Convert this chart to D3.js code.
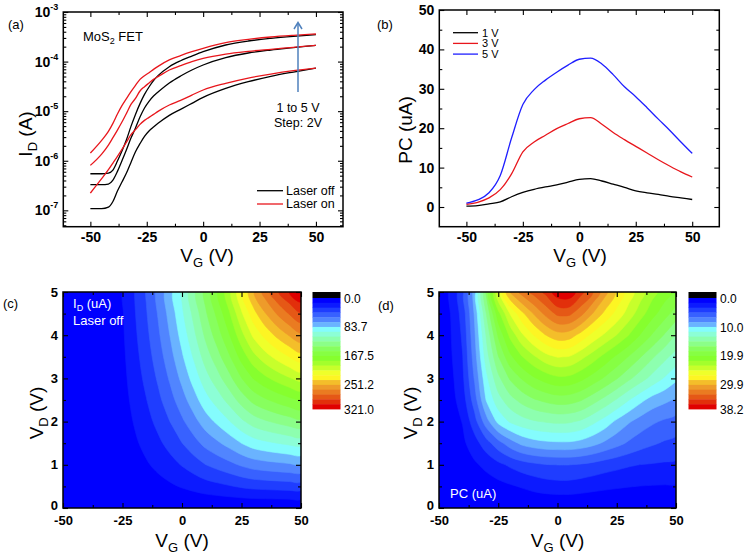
<!DOCTYPE html>
<html><head><meta charset="utf-8">
<script src="https://cdn.jsdelivr.net/npm/d3@7"></script>
<style>
body{margin:0;background:#fff}
svg{display:block}
text{font-family:"Liberation Sans",Arial,Helvetica,sans-serif}
</style></head>
<body><svg id="chart" width="745" height="556"></svg>
<script>
// ---------------- data: panel (a) I_D vs V_G (A) ----------------
const vgA = [-50,-45,-42,-40,-38,-36,-34,-32,-30,-28,-26,-24,-22,-20,-15,-10,-5,0,10,20,30,40,50];
const offVd1 = [1.08e-7,1.08e-7,1.16e-7,1.51e-7,2.45e-7,3.72e-7,5.65e-7,9.27e-7,1.52e-6,2.21e-6,3.10e-6,3.97e-6,4.79e-6,5.68e-6,8.22e-6,1.09e-5,1.44e-5,1.90e-5,2.88e-5,3.93e-5,5.04e-5,6.16e-5,7.41e-5];
const offVd3 = [3.29e-7,3.29e-7,3.39e-7,4.08e-7,6.10e-7,1.00e-6,1.67e-6,2.87e-6,4.57e-6,7.62e-6,1.16e-5,1.58e-5,2.02e-5,2.43e-5,3.70e-5,5.12e-5,6.76e-5,8.53e-5,1.20e-4,1.49e-4,1.71e-4,1.91e-4,2.13e-4];
const offVd5 = [5.47e-7,5.47e-7,5.65e-7,6.49e-7,9.86e-7,1.57e-6,2.65e-6,4.93e-6,8.61e-6,1.42e-5,2.18e-5,3.07e-5,4.12e-5,5.20e-5,7.89e-5,1.04e-4,1.29e-4,1.58e-4,2.16e-4,2.60e-4,2.94e-4,3.23e-4,3.49e-4];
const onVd1 = [2.23e-7,4.34e-7,6.59e-7,8.99e-7,1.22e-6,1.69e-6,2.38e-6,3.35e-6,4.23e-6,5.42e-6,6.52e-6,7.50e-6,8.61e-6,9.91e-6,1.33e-5,1.65e-5,2.11e-5,2.67e-5,3.64e-5,4.66e-5,5.61e-5,6.55e-5,7.41e-5];
const onVd3 = [8.07e-7,1.36e-6,2.07e-6,2.92e-6,4.16e-6,6.04e-6,9.03e-6,1.37e-5,1.81e-5,2.55e-5,3.12e-5,3.70e-5,4.38e-5,4.96e-5,6.76e-5,8.26e-5,9.95e-5,1.16e-4,1.42e-4,1.61e-4,1.77e-4,1.94e-4,2.13e-4];
const onVd5 = [1.43e-6,2.58e-6,3.91e-6,5.68e-6,8.75e-6,1.29e-5,1.79e-5,2.47e-5,3.32e-5,4.38e-5,5.20e-5,5.97e-5,6.97e-5,8.02e-5,1.08e-4,1.32e-4,1.58e-4,1.85e-4,2.41e-4,2.81e-4,3.13e-4,3.38e-4,3.60e-4];
const legendA = ["Laser off","Laser on"];

// ---------------- data: panel (b) PC vs V_G (uA) ----------------
const vgB = [-50,-45,-40,-35,-30,-25,-20,-15,-10,-5,0,5,10,15,20,25,30,35,40,45,50];
const pcVd1 = [0.2,0.35,0.8,1.3,2.6,3.7,4.5,5.1,5.6,6.3,7.0,7.2,6.6,5.8,5.0,4.1,3.6,3.2,2.7,2.3,1.9];
const pcVd3 = [0.7,1.2,2.3,4.4,8.4,14.0,16.5,18.2,19.9,21.2,22.4,22.7,21.0,18.9,17.1,15.4,13.7,12.0,10.4,8.9,7.6];
const pcVd5 = [1.0,1.8,3.6,8.0,17.5,26.0,29.8,32.2,34.2,36.0,37.5,37.8,36.3,33.6,30.5,28.0,25.2,22.3,19.5,16.5,13.6];
const legendB = ["1 V","3 V","5 V"];

// ---------------- data: maps (c) and (d) ----------------
const vgGrid = [-50,-45,-40,-35,-30,-25,-20,-15,-10,-5,0,5,10,15,20,25,30,35,40,45,50];
const vdGrid = [0,0.5,1,1.5,2,2.5,3,3.5,4,4.5,5];
// I_D (uA), laser off; one row per V_D (from 0 V up to 5 V)
const idOffMap = [
 [0,0,0,0,0,0,0,0,0,0,0,0,0,0,0,0,0,0,0,0,0],
 [0.04,0.07,0.12,0.19,0.45,2.0,4.2,6.4,9.0,11.8,15.0,18.2,21.7,24.2,26.8,29.6,31.8,32.8,33.6,34.3,35.0],
 [0.09,0.14,0.23,0.37,0.86,3.9,8.1,12.4,17.3,22.8,28.8,35.1,41.8,46.8,51.9,57.5,62.0,64.4,66.1,67.8,69.3],
 [0.12,0.21,0.33,0.54,1.25,5.6,11.6,17.9,24.9,32.8,41.6,50.7,60.2,67.6,75.3,83.8,90.8,94.7,97.7,100.5,103.0],
 [0.16,0.27,0.43,0.69,1.6,7.2,14.9,22.9,31.9,42.0,53.2,64.9,77.1,86.8,97.1,108.5,118.0,123.8,128.3,132.4,136.1],
 [0.19,0.32,0.51,0.83,1.91,8.6,17.9,27.4,38.3,50.4,63.8,77.8,92.4,104.4,117.1,131.5,143.8,151.6,157.9,163.5,168.5],
 [0.22,0.37,0.59,0.95,2.2,9.9,20.5,31.5,43.9,57.8,73.2,89.3,106.1,120.2,135.5,152.9,168.0,178.2,186.5,193.8,200.3],
 [0.24,0.41,0.65,1.06,2.45,11.0,22.8,35.1,48.9,64.4,81.6,99.5,118.2,134.4,152.1,172.6,190.8,203.5,214.1,223.3,231.4],
 [0.27,0.44,0.71,1.15,2.66,12.0,24.9,38.2,53.3,70.2,88.8,108.3,128.8,147.0,167.1,190.7,212.0,227.6,240.7,252.0,261.9],
 [0.28,0.47,0.76,1.23,2.85,12.8,26.6,40.8,57.0,75.0,95.0,115.8,137.7,157.8,180.4,207.2,231.8,250.4,266.4,279.9,291.8],
 [0.3,0.5,0.8,1.3,3.0,13.5,28,43,60,79,100,122,145,167,192,222,250,272,291,307,321]
];
// PC (uA); one row per V_D (from 0 V up to 5 V)
const pcMap = [
 [0,0,0,0,0,0,0,0,0,0,0,0,0,0,0,0,0,0,0,0,0],
 [0.07,0.2,0.35,0.55,0.8,1.1,1.45,1.8,2.2,2.5,2.65,2.65,2.45,2.2,2.0,1.85,1.72,1.63,1.58,1.55,1.5],
 [0.15,0.4,0.8,1.4,2.1,2.9,3.6,4.2,4.6,4.9,5.0,5.0,4.8,4.5,4.1,3.8,3.5,3.3,3.2,3.1,3.0],
 [0.2,0.6,1.3,2.6,4.3,6.0,7.5,8.7,9.3,9.6,9.7,9.7,9.4,8.8,8.0,7.2,6.4,5.7,5.2,4.8,4.5],
 [0.3,0.8,1.75,4.3,7.6,10.4,11.8,12.6,13.1,13.4,13.6,13.5,13.0,12.0,10.9,9.6,8.5,7.6,6.9,6.4,6.0],
 [0.35,1.0,2.5,5.8,10.1,12.6,14.3,15.5,16.4,17.0,17.4,17.3,16.7,15.6,14.4,13.1,11.7,10.4,9.3,8.7,8.1],
 [0.45,1.2,3.0,6.8,11.2,14.5,16.8,18.4,19.7,20.6,21.2,21.1,20.3,19.2,18.0,16.7,15.3,14.0,12.7,11.5,10.3],
 [0.5,1.45,3.3,7.5,12.5,16.5,19.5,21.5,23.0,24.3,25.0,24.8,23.7,22.4,21.0,19.6,18.2,16.7,15.2,13.8,12.5],
 [0.6,1.6,3.6,8.0,13.5,18.5,22.0,24.6,26.6,28.2,29.2,29.0,27.6,26.0,24.6,23.2,21.6,19.8,18.1,16.5,14.8],
 [0.7,1.7,4.0,8.5,15.0,21.0,25.0,27.8,30.0,32.0,33.6,33.6,32.0,29.8,27.8,26.0,24.2,22.3,20.5,19.0,17.5],
 [0.8,1.9,4.5,9.0,17.0,25.0,30.0,32.2,33.8,35.3,37.6,37.8,35.4,33.2,30.5,28.0,25.8,24.0,22.2,20.8,19.5]
];
const mapMaxC = 321.0, mapMaxD = 38.2;
const cbTicksC = [0.0,83.7,167.5,251.2,321.0];
const cbTicksD = [0.0,10.0,19.9,29.9,38.2];
const nLevels = 23;

// ---------------- styles ----------------
const cmapT = [0,0.04,0.09,0.14,0.19,0.23,0.27,0.33,0.40,0.47,0.55,0.62,0.68,0.72,0.76,0.82,0.88,0.94,1];
const cmapC = ["#0000ff","#0a16ff","#1e3cff","#3a64ff","#558cff","#6cb6ff","#84fcff","#8effcc","#8cff90","#86ff50","#86ff2c","#b8ff2c","#eeff2a","#ffff22","#f6c82a","#ee9a2a","#e8701e","#e23e0e","#e00000"];
const cmap = d3.scaleLinear().domain(cmapT).range(cmapC).interpolate(d3.interpolateRgb);

const svg = d3.select("#chart");
const fmtTick = d => String(d);

function addAxes(g, x, y, cfg) {
  const [x0, x1] = x.range(), [yb, yt] = y.range();
  const mk = (fn, scale, vals, size, tr, fmt, pad) => {
    const a = fn(scale).tickValues(vals).tickSizeInner(-size).tickSizeOuter(0).tickPadding(pad || 3).tickFormat(fmt || (() => ""));
    const gg = g.append("g").attr("transform", tr).call(a);
    gg.select(".domain").remove();
    gg.selectAll("line").attr("stroke", "#000").attr("stroke-width", 1.1);
    gg.selectAll("text").attr("font-size", cfg.fs).attr("font-weight", "bold").attr("fill", "#000").attr("font-family", '"Liberation Sans",Arial,sans-serif');
    return gg;
  };
  mk(d3.axisBottom, x, cfg.xMajor, 5, `translate(0,${yb})`, fmtTick, cfg.xPad);
  mk(d3.axisBottom, x, cfg.xMinor, 3, `translate(0,${yb})`);
  mk(d3.axisTop, x, cfg.xMajor, 5, `translate(0,${yt})`);
  mk(d3.axisTop, x, cfg.xMinor, 3, `translate(0,${yt})`);
  const left = mk(d3.axisLeft, y, cfg.yMajor, 5, `translate(${x0},0)`, cfg.yFmt, cfg.yPad);
  if (cfg.lift0) left.selectAll(".tick").filter(d => d === 0).select("text").attr("y", -cfg.lift0);
  mk(d3.axisLeft, y, cfg.yMinor, 3, `translate(${x0},0)`);
  mk(d3.axisRight, y, cfg.yMajor, 5, `translate(${x1},0)`);
  mk(d3.axisRight, y, cfg.yMinor, 3, `translate(${x1},0)`);
  g.append("rect").attr("x", x0).attr("y", yt).attr("width", x1 - x0).attr("height", yb - yt)
    .attr("fill", "none").attr("stroke", "#000").attr("stroke-width", 1.5);
}

function subTitle(g, x, y, main, sub, rest, rotate) {
  const t = g.append("text").attr("font-size", 19).attr("fill", "#000").attr("text-anchor", "middle")
    .attr("transform", rotate ? `translate(${x},${y}) rotate(-90)` : `translate(${x},${y})`);
  t.append("tspan").text(main);
  if (sub) t.append("tspan").attr("font-size", 13).attr("dy", 5).text(sub);
  t.append("tspan").attr("dy", sub ? -5 : 0).text(rest);
}

function panelLabel(x, y, s) {
  svg.append("text").attr("x", x).attr("y", y).attr("font-size", 13).attr("fill", "#000").text(s);
}

// ================= Panel (a) =================
{
  const g = svg.append("g");
  const x = d3.scaleLinear().domain([-62, 62]).range([63.3, 343]);
  const y = d3.scaleLog().domain([Math.pow(10, -7.33), 1e-3]).range([226.7, 12]);
  const majors = [1e-7, 1e-6, 1e-5, 1e-4, 1e-3];
  const minors = [];
  for (let e = -8; e <= -4; e++) for (let m = 2; m <= 9; m++) { const v = m * Math.pow(10, e); if (v >= y.domain()[0] && v <= 1e-3) minors.push(v); }
  const line = d3.line().x((d, i) => x(vgA[i])).y(d => y(d)).curve(d3.curveMonotoneX);
  [[offVd1, "#000"], [offVd3, "#000"], [offVd5, "#000"], [onVd1, "#e8161c"], [onVd3, "#e8161c"], [onVd5, "#e8161c"]]
    .forEach(([s, c]) => g.append("path").attr("d", line(s)).attr("fill", "none").attr("stroke", c).attr("stroke-width", 1.3));
  addAxes(g, x, y, { xMajor: [-50, -25, 0, 25, 50], xMinor: [-37.5, -12.5, 12.5, 37.5], yMajor: majors, yMinor: minors, fs: 14, xPad: 5, yPad: 5 });
  majors.forEach(v => {
    const t = g.append("text").attr("x", x.range()[0] - 5).attr("y", y(v) + 5).attr("text-anchor", "end")
      .attr("font-size", 14).attr("font-weight", "bold").attr("fill", "#000");
    t.append("tspan").text("10");
    t.append("tspan").attr("font-size", 9).attr("dy", -7).text(String(Math.round(Math.log10(v))));
  });
  subTitle(g, 207, 262, "V", "G", " (V)", false);
  subTitle(g, 32, 134, "I", "D", " (A)", true);
  const m = g.append("text").attr("x", 83).attr("y", 41).attr("font-size", 13).attr("fill", "#000");
  m.append("tspan").text("MoS");
  m.append("tspan").attr("font-size", 9).attr("dy", 3).text("2");
  m.append("tspan").attr("dy", -3).text(" FET");
  g.append("text").attr("x", 298).attr("y", 112).attr("text-anchor", "middle").attr("font-size", 12.5).text("1 to 5 V");
  g.append("text").attr("x", 298).attr("y", 126.5).attr("text-anchor", "middle").attr("font-size", 12.5).text("Step: 2V");
  g.append("line").attr("x1", 298).attr("x2", 298).attr("y1", 92).attr("y2", 23).attr("stroke", "#4f81bd").attr("stroke-width", 1.5);
  g.append("path").attr("d", "M294,29 L298,22.5 L302,29").attr("fill", "none").attr("stroke", "#4f81bd").attr("stroke-width", 1.5);
  legendA.forEach((s, i) => {
    const yy = 190.7 + i * 13.3;
    g.append("line").attr("x1", 257).attr("x2", 283).attr("y1", yy).attr("y2", yy).attr("stroke", i ? "#e8161c" : "#000").attr("stroke-width", 1.3);
    g.append("text").attr("x", 286).attr("y", yy + 4.3).attr("font-size", 12.5).attr("fill", "#000").text(s);
  });
}
panelLabel(8, 29, "(a)");

// ================= Panel (b) =================
{
  const g = svg.append("g");
  const x = d3.scaleLinear().domain([-62, 62]).range([439.3, 719.3]);
  const y = d3.scaleLinear().domain([-5, 50]).range([226.7, 10]);
  const line = d3.line().x((d, i) => x(vgB[i])).y(d => y(d)).curve(d3.curveMonotoneX);
  const cols = ["#000", "#e8161c", "#1f1fff"];
  [pcVd1, pcVd3, pcVd5].forEach((s, i) => g.append("path").attr("d", line(s)).attr("fill", "none").attr("stroke", cols[i]).attr("stroke-width", 1.3));
  addAxes(g, x, y, { xMajor: [-50, -25, 0, 25, 50], xMinor: [-37.5, -12.5, 12.5, 37.5], yMajor: [0, 10, 20, 30, 40, 50], yMinor: [5, 15, 25, 35, 45], fs: 14, xPad: 5, yPad: 5, yFmt: fmtTick });
  subTitle(g, 580, 262, "V", "G", " (V)", false);
  subTitle(g, 412, 130, "PC (uA)", null, "", true);
  legendB.forEach((s, i) => {
    const yy = 32.7 + i * 10.7;
    g.append("line").attr("x1", 453).attr("x2", 478).attr("y1", yy).attr("y2", yy).attr("stroke", cols[i]).attr("stroke-width", 1.3);
    g.append("text").attr("x", 482).attr("y", yy + 4).attr("font-size", 11).attr("fill", "#000").text(s);
  });
}
panelLabel(377, 29, "(b)");

// ================= Contour panels =================
const ringLine = d3.line().curve(d3.curveCatmullRomClosed.alpha(0.5));
function contourPanel(xr, cbx, cbLabelX, grid, maxV, cbTicks, id) {
  const g = svg.append("g");
  const x = d3.scaleLinear().domain([-50, 50]).range(xr);
  const y = d3.scaleLinear().domain([0, 5]).range([508, 292]);
  const nx = vgGrid.length, ny = vdGrid.length;
  const gx = d3.scaleLinear().domain([0.5, nx - 0.5]).range([vgGrid[0], vgGrid[nx - 1]]);
  const gy = d3.scaleLinear().domain([0.5, ny - 0.5]).range([vdGrid[0], vdGrid[ny - 1]]);
  const toPx = p => [x(gx(p[0])), y(gy(p[1]))];
  const pathOf = mp => mp.coordinates.map(poly => poly.map(ring => ringLine(ring.slice(0, -1).map(toPx))).join("")).join("");
  const step = maxV / nLevels;
  const thr = d3.range(nLevels).map(k => k * step);
  const conts = d3.contours().size([nx, ny]).thresholds(thr)(grid.flat());
  svg.append("clipPath").attr("id", id).append("rect").attr("x", xr[0]).attr("y", 292).attr("width", xr[1] - xr[0]).attr("height", 216);
  g.append("g").attr("clip-path", `url(#${id})`).selectAll("path").data(conts).join("path")
    .attr("d", pathOf).attr("fill", (d, i) => cmap(i / (nLevels - 1))).attr("stroke", (d, i) => cmap(i / (nLevels - 1))).attr("stroke-width", 0.6);
  addAxes(g, x, y, { xMajor: [-50, -25, 0, 25, 50], xMinor: [-37.5, -12.5, 12.5, 37.5], yMajor: [0, 1, 2, 3, 4, 5], yMinor: [0.5, 1.5, 2.5, 3.5, 4.5], fs: 13, xPad: 8, yPad: 5, yFmt: fmtTick, lift0: 3 });
  subTitle(g, (xr[0] + xr[1]) / 2, 547, "V", "G", " (V)", false);
  const cb = d3.scaleLinear().domain([0, maxV]).range([298, 409]);
  g.append("rect").attr("x", cbx).attr("y", 292).attr("width", 28).attr("height", 6).attr("fill", "#000");
  g.selectAll(null).data(thr).join("rect").attr("x", cbx).attr("width", 28)
    .attr("y", d => cb(d)).attr("height", d => cb(d + step) - cb(d) + 0.4)
    .attr("fill", (d, i) => cmap(i / (nLevels - 1)));
  g.selectAll(null).data(cbTicks).join("text").attr("x", cbLabelX).attr("y", d => cb(d) + 4.5)
    .attr("font-size", 12).attr("fill", "#000").text(d => d.toFixed(1));
  return g;
}

{
  const g = contourPanel([63, 301], 312.5, 344, idOffMap, mapMaxC, cbTicksC, "clipC");
  subTitle(g, 43, 413, "V", "D", " (V)", true);
  const t = g.append("text").attr("x", 73).attr("y", 308).attr("font-size", 13).attr("fill", "#fff");
  t.append("tspan").text("I");
  t.append("tspan").attr("font-size", 9).attr("dy", 3).text("D");
  t.append("tspan").attr("dy", -3).text(" (uA)");
  g.append("text").attr("x", 73).attr("y", 325).attr("font-size", 13).attr("fill", "#fff").text("Laser off");
}
panelLabel(3, 308, "(c)");

{
  const g = contourPanel([439, 676], 688.5, 720, pcMap, mapMaxD, cbTicksD, "clipD");
  subTitle(g, 417, 413, "V", "D", " (V)", true);
  g.append("text").attr("x", 450).attr("y", 498).attr("font-size", 13).attr("fill", "#fff").text("PC (uA)");
}
panelLabel(378, 310, "(d)");
</script>
</body></html>
